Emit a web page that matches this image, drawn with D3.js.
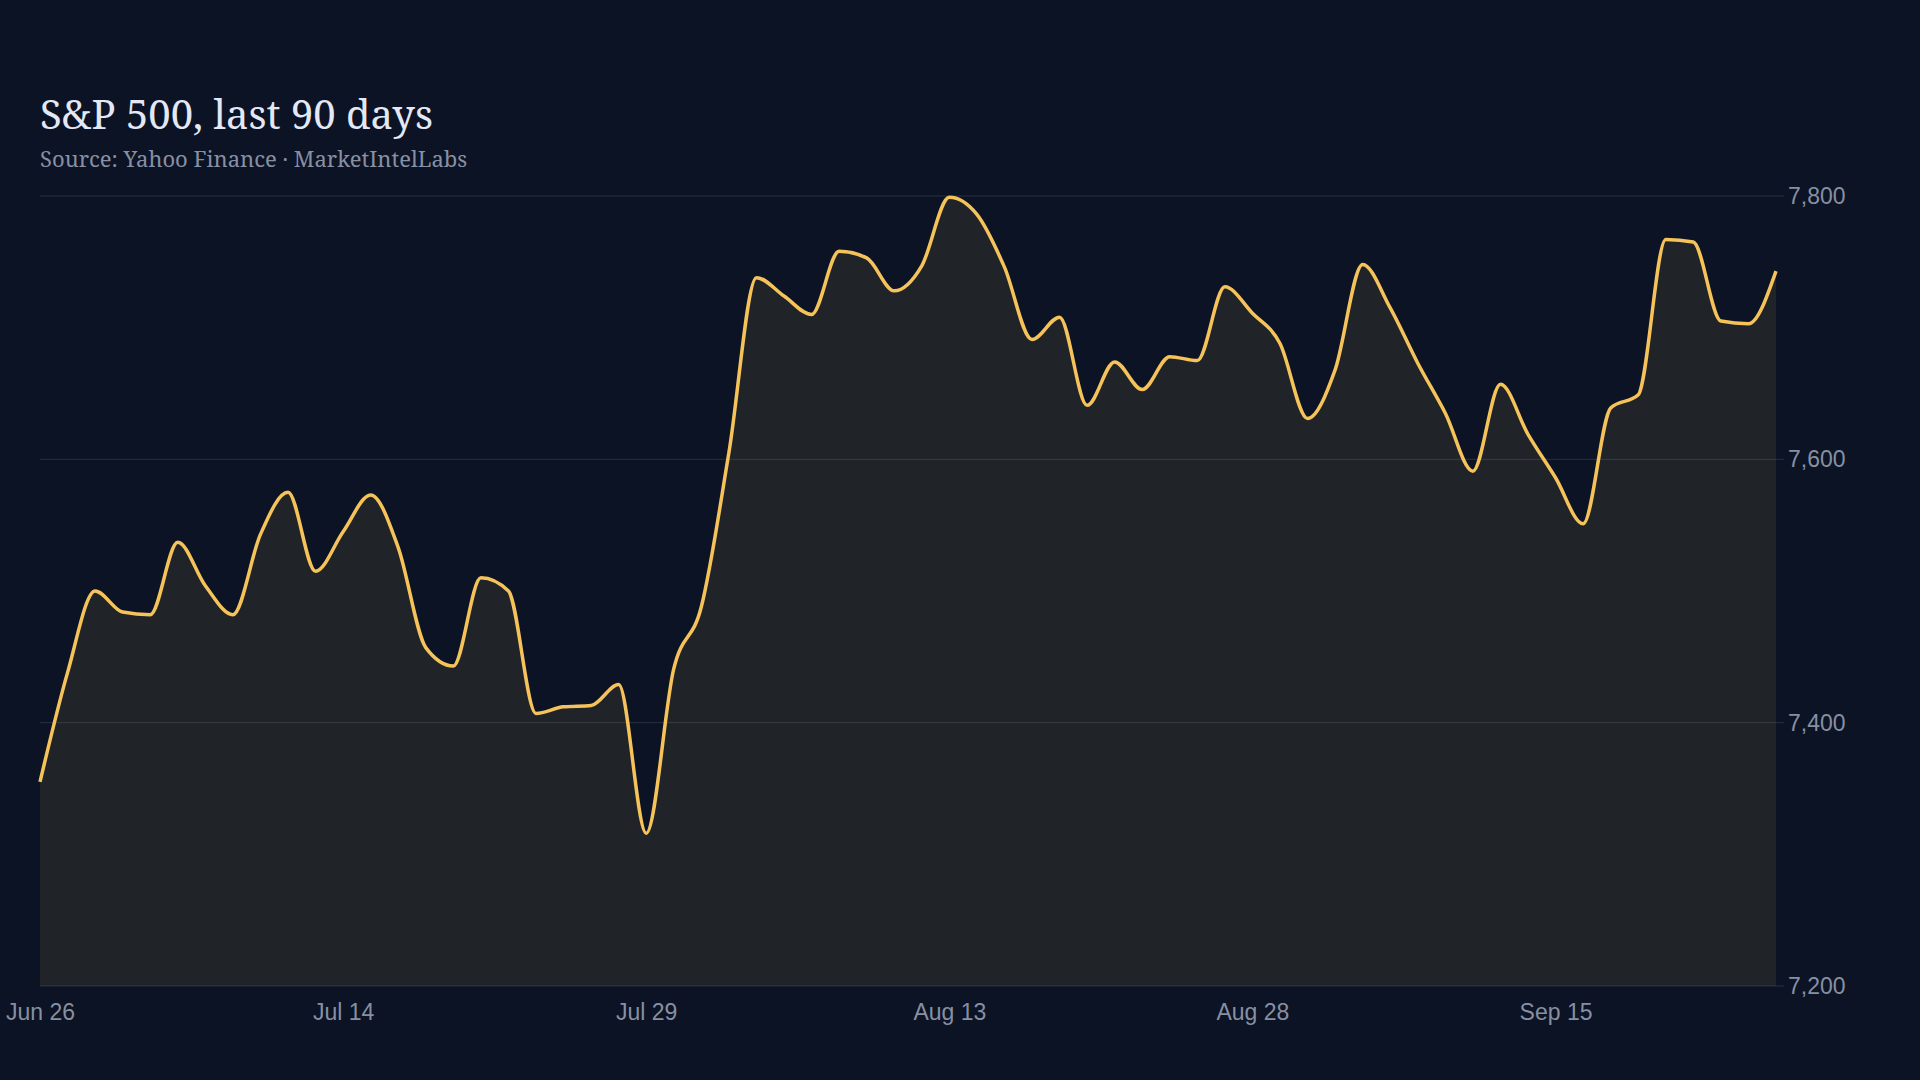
<!DOCTYPE html>
<html>
<head>
<meta charset="utf-8">
<script src="https://cdn.jsdelivr.net/npm/d3@7"></script>
<style>
  html, body { margin: 0; padding: 0; background: #0c1324; }
  svg { display: block; }
</style>
</head>
<body>
<div id="chart"></div>
<script>
// trading days, Jun 26 -> Sep 25
const dates = [
  "Jun 26", "Jun 27", "Jun 30", "Jul 1", "Jul 2", "Jul 3", "Jul 7", "Jul 8", "Jul 9", "Jul 10",
  "Jul 11", "Jul 14", "Jul 15", "Jul 16", "Jul 17", "Jul 18", "Jul 21", "Jul 22", "Jul 23", "Jul 24",
  "Jul 25", "Jul 28", "Jul 29", "Jul 30", "Jul 31", "Aug 1", "Aug 4", "Aug 5", "Aug 6", "Aug 7",
  "Aug 8", "Aug 11", "Aug 12", "Aug 13", "Aug 14", "Aug 15", "Aug 18", "Aug 19", "Aug 20", "Aug 21",
  "Aug 22", "Aug 25", "Aug 26", "Aug 27", "Aug 28", "Aug 29", "Sep 2", "Sep 3", "Sep 4", "Sep 5",
  "Sep 8", "Sep 9", "Sep 10", "Sep 11", "Sep 12", "Sep 15", "Sep 16", "Sep 17", "Sep 18", "Sep 19",
  "Sep 22", "Sep 23", "Sep 24", "Sep 25"
];

// closing values
const closes = [
  7355, 7438, 7500, 7484, 7482, 7537, 7504, 7482, 7543, 7575,
  7515, 7545, 7573, 7533, 7457, 7443, 7510, 7500, 7407, 7412,
  7413, 7429, 7316, 7441, 7488, 7605, 7738, 7724, 7710, 7758,
  7753, 7728, 7747, 7799, 7786, 7746, 7691, 7708, 7641, 7674,
  7653, 7678, 7675, 7731, 7711, 7688, 7631, 7668, 7748, 7715,
  7673, 7635, 7591, 7657, 7619, 7586, 7551, 7639, 7649, 7767,
  7765, 7705, 7703, 7743
];

const xTicks = ["Jun 26", "Jul 14", "Jul 29", "Aug 13", "Aug 28", "Sep 15"];
const yTicks = [7200, 7400, 7600, 7800];

const data = dates.map((d, i) => ({ date: d, value: closes[i] }));

const svg = d3.select("#chart")
    .append("svg")
    .attr("width", 1920)
    .attr("height", 1080);

svg.append("rect").attr("width", 1920).attr("height", 1080).attr("fill", "#0c1324");

// title + source
svg.append("text").attr("x", 40).attr("y", 129)
    .text("S&P 500, last 90 days")
    .style("font-family", "'Noto Serif', 'DejaVu Serif', serif")
    .style("font-size", "40px")
    .attr("fill", "#e3e8f6");
svg.append("text").attr("x", 40).attr("y", 167)
    .text("Source: Yahoo Finance · MarketIntelLabs")
    .style("font-family", "'Noto Serif', 'DejaVu Serif', serif")
    .style("font-size", "22px")
    .attr("fill", "#8790a3");

const x = d3.scalePoint()
    .domain(dates)
    .range([40, 1776]);

const y = d3.scaleLinear()
    .domain([7200, 7800])
    .range([986, 196]);

// gridlines
svg.append("g")
    .selectAll("line")
    .data(yTicks)
    .join("line")
    .attr("x1", 40)
    .attr("x2", 1784)
    .attr("y1", d => y(d))
    .attr("y2", d => y(d))
    .attr("stroke", "#283040")
    .attr("stroke-width", 1);

// area
const area = d3.area()
    .x(d => x(d.date))
    .y0(y(7200))
    .y1(d => y(d.value))
    .curve(d3.curveMonotoneX);

svg.append("path")
    .datum(data)
    .attr("d", area)
    .attr("fill", "#f5c35a")
    .attr("fill-opacity", 0.09);

const line = d3.line()
    .x(d => x(d.date))
    .y(d => y(d.value))
    .curve(d3.curveMonotoneX);

svg.append("path")
    .datum(data)
    .attr("d", line)
    .attr("fill", "none")
    .attr("stroke", "#f5c35a")
    .attr("stroke-width", 3.5)
    .attr("stroke-linejoin", "round");

// y axis on the right
const yAxis = svg.append("g")
    .attr("transform", "translate(1784,0)")
    .call(d3.axisRight(y).tickValues(yTicks).tickSize(0).tickPadding(4).tickFormat(d3.format(",")));
yAxis.select(".domain").remove();
yAxis.selectAll("text")
    .style("font-family", "'Liberation Sans', Arial, sans-serif")
    .style("font-size", "23px")
    .attr("fill", "#8790a3");

// x axis
const xAxis = svg.append("g")
    .attr("transform", "translate(0,986)")
    .call(d3.axisBottom(x).tickValues(xTicks).tickSize(0).tickPadding(18));
xAxis.select(".domain").remove();
xAxis.selectAll("text")
    .style("font-family", "'Liberation Sans', Arial, sans-serif")
    .style("font-size", "23px")
    .attr("fill", "#8790a3");
</script>
</body>
</html>
